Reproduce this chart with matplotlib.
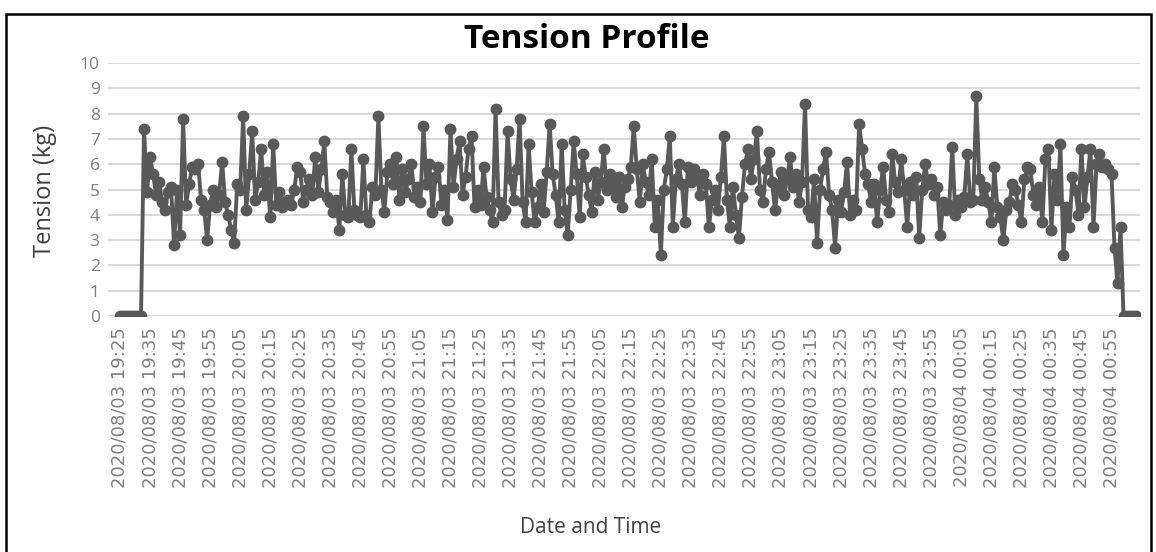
import matplotlib
matplotlib.use('Agg')
import matplotlib.pyplot as plt
from matplotlib.patches import Rectangle

# Tension readings, one per minute from 2020/08/03 19:25
tension = [
    0, 0, 0, 0, 0, 0, 0, 0, 7.4, 4.9,
    6.3, 5.6, 4.8, 5.3, 4.5, 4.2, 4.9, 5.1, 2.8, 5.0,
    3.2, 7.8, 4.4, 5.2, 5.9, 5.8, 6.0, 4.6, 4.2, 3.0,
    4.4, 5.0, 4.3, 4.8, 6.1, 4.5, 4.0, 3.4, 2.9, 5.2,
    5.0, 7.9, 4.2, 5.6, 7.3, 4.6, 5.3, 6.6, 4.8, 5.7,
    3.9, 6.8, 4.4, 4.9, 4.3, 4.5, 4.6, 4.4, 5.0, 5.9,
    5.7, 4.5, 5.0, 5.4, 4.8, 6.3, 4.9, 5.8, 6.9, 4.7,
    4.5, 4.1, 4.6, 3.4, 5.6, 4.0, 3.9, 6.6, 4.2, 4.0,
    3.9, 6.2, 4.0, 3.7, 5.1, 4.8, 7.9, 5.0, 4.1, 5.7,
    6.0, 5.2, 6.3, 4.6, 5.8, 4.9, 5.4, 6.0, 4.7, 5.1,
    4.5, 7.5, 5.2, 6.0, 4.1, 5.5, 5.9, 4.4, 5.0, 3.8,
    7.4, 5.1, 6.2, 6.9, 4.8, 5.5, 6.6, 7.1, 4.3, 5.0,
    4.4, 5.9, 4.7, 4.2, 3.7, 8.2, 4.5, 4.0, 4.2, 7.3,
    5.4, 4.6, 5.8, 7.8, 4.5, 3.7, 6.8, 4.9, 3.7, 4.3,
    5.2, 4.1, 5.7, 7.6, 5.6, 4.8, 3.7, 6.8, 4.2, 3.2,
    5.0, 6.9, 5.6, 3.9, 6.4, 5.5, 4.8, 4.1, 5.7, 4.6,
    5.3, 6.6, 5.0, 5.6, 5.2, 4.7, 5.5, 4.3, 5.1, 5.4,
    5.9, 7.5, 5.8, 4.5, 6.0, 5.3, 4.8, 6.2, 3.5, 4.6,
    2.4, 5.0, 5.8, 7.1, 3.5, 5.4, 6.0, 5.2, 3.7, 5.9,
    5.3, 5.8, 5.5, 4.8, 5.6, 5.2, 3.5, 4.6, 5.0, 4.2,
    5.5, 7.1, 4.6, 3.5, 5.1, 4.0, 3.1, 4.7, 6.0, 6.6,
    5.4, 6.2, 7.3, 5.0, 4.5, 5.8, 6.5, 5.3, 4.2, 5.1,
    5.7, 4.8, 5.4, 6.3, 5.1, 5.6, 4.5, 5.3, 8.4, 4.2,
    3.9, 5.4, 2.9, 5.0, 5.8, 6.5, 4.8, 4.2, 2.7, 4.6,
    4.1, 4.9, 6.1, 4.0, 4.6, 4.2, 7.6, 6.6, 5.6, 5.2,
    4.5, 5.2, 3.7, 5.0, 5.9, 4.6, 4.1, 6.4, 5.3, 4.9,
    6.2, 5.0, 3.5, 5.3, 4.8, 5.5, 3.1, 5.0, 6.0, 5.2,
    5.4, 4.8, 5.1, 3.2, 4.5, 4.2, 4.4, 6.7, 4.0, 4.6,
    4.3, 4.7, 6.4, 4.5, 4.6, 8.7, 5.4, 4.6, 5.1, 4.5,
    3.7, 5.9, 4.3, 3.9, 3.0, 4.2, 4.5, 5.2, 5.0, 4.4,
    3.7, 5.4, 5.9, 5.8, 4.8, 4.4, 5.1, 3.7, 6.2, 6.6,
    3.4, 5.6, 4.6, 6.8, 2.4, 4.3, 3.5, 5.5, 5.0, 4.0,
    6.6, 4.3, 5.5, 6.6, 3.5, 6.0, 6.4, 5.9, 6.0, 5.8,
    5.6, 2.7, 1.3, 3.5, 0, 0, 0, 0, 0,
]

# Category labels shown on the x axis (every 10th reading)
tick_labels = [
    '2020/08/03 19:25', '2020/08/03 19:35', '2020/08/03 19:45', '2020/08/03 19:55',
    '2020/08/03 20:05', '2020/08/03 20:15', '2020/08/03 20:25', '2020/08/03 20:35',
    '2020/08/03 20:45', '2020/08/03 20:55', '2020/08/03 21:05', '2020/08/03 21:15',
    '2020/08/03 21:25', '2020/08/03 21:35', '2020/08/03 21:45', '2020/08/03 21:55',
    '2020/08/03 22:05', '2020/08/03 22:15', '2020/08/03 22:25', '2020/08/03 22:35',
    '2020/08/03 22:45', '2020/08/03 22:55', '2020/08/03 23:05', '2020/08/03 23:15',
    '2020/08/03 23:25', '2020/08/03 23:35', '2020/08/03 23:45', '2020/08/03 23:55',
    '2020/08/04 00:05', '2020/08/04 00:15', '2020/08/04 00:25', '2020/08/04 00:35',
    '2020/08/04 00:45', '2020/08/04 00:55',
]
label_step = 10

plt.rcParams['font.family'] = ['Open Sans', 'DejaVu Sans']

fig = plt.figure(figsize=(11.56, 5.52), dpi=100)
ax = fig.add_axes([0.0934, 0.4275, 0.8928, 0.4583])

x = list(range(len(tension)))
ax.plot(x, tension, color='#595959', linewidth=2.8, marker='o', markersize=7.5,
        markerfacecolor='#595959', markeredgecolor='#595959', zorder=3)

ax.set_xlim(-4, 339.5)
ax.set_ylim(0, 10)
ax.set_yticks(range(0, 11))
ax.yaxis.grid(True, color='#d9d9d9', linewidth=1.5)
ax.set_axisbelow(True)
for s in ['top', 'right', 'left', 'bottom']:
    ax.spines[s].set_visible(False)

ax.set_xticks([i * label_step for i in range(len(tick_labels))])
ax.set_xticklabels(tick_labels, rotation=90, fontsize=13, color='#7f7f7f',
                   family='DejaVu Sans')
ax.tick_params(axis='x', length=0, pad=8)
ax.tick_params(axis='y', length=0, pad=6, labelsize=12.5, labelcolor='#7f7f7f')

fig.text(0.508, 0.928, 'Tension Profile', ha='center', va='center',
         fontsize=24, fontweight='bold', color='black')
fig.text(0.039, 0.655, 'Tension (kg)', ha='center', va='center', rotation=90,
         fontsize=17, color='#404040')
fig.text(0.511, 0.045, 'Date and Time', ha='center', va='center',
         fontsize=15, color='#404040')

# Outer chart border
fig.patches.append(Rectangle((0.005, -0.02), 0.991, 0.995, transform=fig.transFigure,
                             fill=False, edgecolor='black', linewidth=1.8))

fig.savefig('out.png', dpi=100)
